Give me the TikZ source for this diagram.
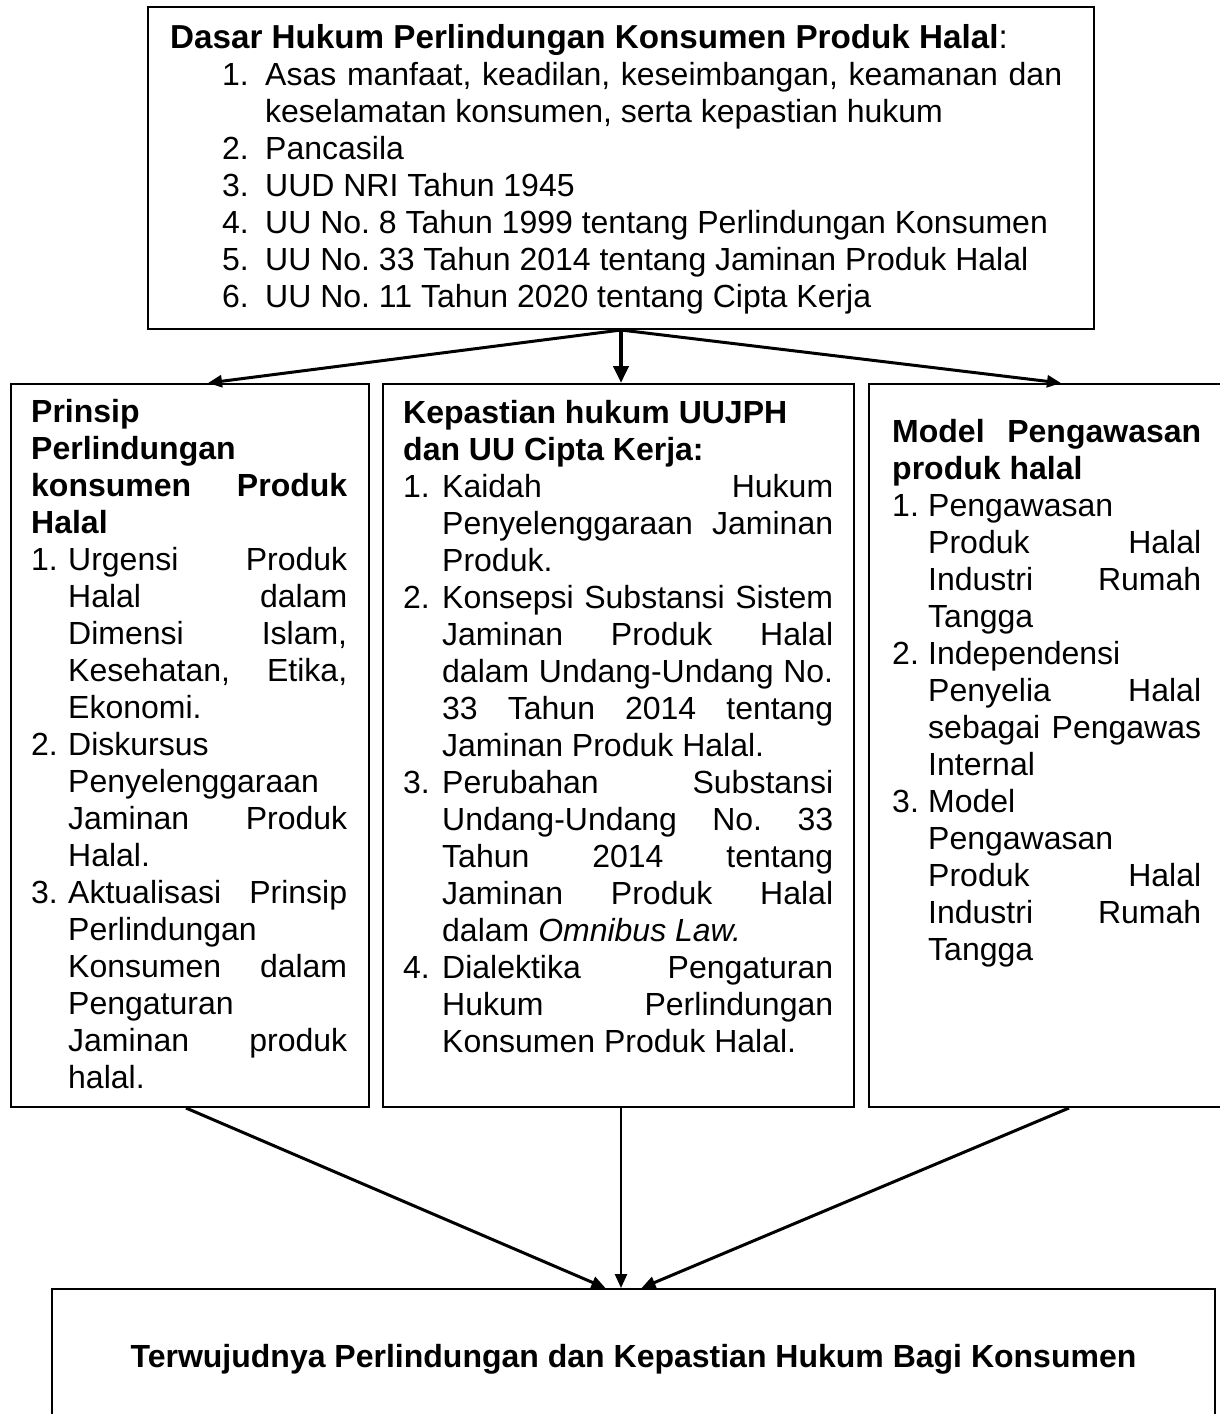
\documentclass[tikz,border=0pt]{standalone}
\usepackage{fontspec}
\setmainfont{Liberation Sans}
\usepackage{tikz}
\usetikzlibrary{arrows.meta, positioning, calc}
\frenchspacing

\newlength{\lebarbutir}
\setlength{\lebarbutir}{38pt}
\newcommand{\butir}[2]{\par\hangindent=\lebarbutir\hangafter=1\noindent\makebox[\lebarbutir][l]{#1}#2}
\newcommand{\butiratas}[2]{\par\leftskip=52pt\hangindent=43pt\hangafter=1\noindent\makebox[43pt][l]{#1}#2}

\begin{document}
\begin{tikzpicture}[
    x=1pt, y=-1pt,
    kotak/.style={rectangle, draw, line width=2pt, inner sep=0pt, anchor=north west},
    isi/.style={inner sep=0pt, anchor=base west, align=justify, font={\fontsize{32}{37}\selectfont\hyphenpenalty=10000}},
    panah/.style={-{Triangle[length=14pt, width=12pt]}, line width=3pt},
]
\useasboundingbox (0,0) rectangle (1219,1414);

% Boxes
\node[kotak, minimum width=946pt, minimum height=322pt] (dasar) at (147,6) {};
\node[kotak, minimum width=358pt, minimum height=723pt] (prinsip) at (10,383) {};
\node[kotak, minimum width=471pt, minimum height=723pt] (kepastian) at (382,383) {};
\node[kotak, minimum width=360pt, minimum height=723pt] (model) at (868,383) {};
\node[kotak, minimum width=1163pt, minimum height=160pt] (hasil) at (51,1288) {};

% Texts
\node[isi, text width=892pt] (teksdasar) at ($(dasar.north west)+(23,42)$) {%
  {\fontsize{33.2}{37}\selectfont\textbf{Dasar Hukum Perlindungan Konsumen Produk Halal}:}
  \butiratas{1.}{Asas manfaat, keadilan, keseimbangan, keamanan dan\linebreak keselamatan konsumen, serta kepastian hukum}
  \butiratas{2.}{Pancasila}
  \butiratas{3.}{UUD NRI Tahun 1945}
  \butiratas{4.}{UU No. 8 Tahun 1999 tentang Perlindungan Konsumen}
  \butiratas{5.}{UU No. 33 Tahun 2014 tentang Jaminan Produk Halal}
  \butiratas{6.}{UU No. 11 Tahun 2020 tentang Cipta Kerja}\par};

\node[isi, text width=316pt] (teksprinsip) at ($(prinsip.north west)+(21,39)$) {%
  \setlength{\lebarbutir}{37pt}%
  \textbf{Prinsip\newline Perlindungan\newline konsumen Produk\linebreak Halal}
  \butir{1.}{Urgensi Produk\linebreak Halal dalam\linebreak Dimensi Islam,\linebreak Kesehatan, Etika,\linebreak Ekonomi.}
  \butir{2.}{Diskursus\newline Penyelenggaraan\newline Jaminan Produk\linebreak Halal.}
  \butir{3.}{Aktualisasi Prinsip\linebreak Perlindungan\newline Konsumen dalam\linebreak Pengaturan\newline Jaminan produk\linebreak halal.}\par};

\node[isi, text width=430pt] (tekskepastian) at ($(kepastian.north west)+(21,40)$) {%
  \setlength{\lebarbutir}{39pt}%
  \textbf{Kepastian hukum UUJPH\newline dan UU Cipta Kerja:}
  \butir{1.}{Kaidah Hukum\linebreak Penyelenggaraan Jaminan\linebreak Produk.}
  \butir{2.}{Konsepsi Substansi Sistem\linebreak Jaminan Produk Halal\linebreak dalam \mbox{Undang-Undang} No.\linebreak 33 Tahun 2014 tentang\linebreak Jaminan Produk Halal.}
  \butir{3.}{Perubahan Substansi\linebreak \mbox{Undang-Undang} No. 33\linebreak Tahun 2014 tentang\linebreak Jaminan Produk Halal\linebreak dalam \textit{Omnibus Law.}}
  \butir{4.}{Dialektika Pengaturan\linebreak Hukum Perlindungan\linebreak Konsumen Produk Halal.}\par};

\node[isi, text width=309pt] (teksmodel) at ($(model.north west)+(24,59)$) {%
  \setlength{\lebarbutir}{36pt}%
  \textbf{Model Pengawasan\linebreak produk halal}
  \butir{1.}{Pengawasan\newline Produk Halal\linebreak Industri Rumah\linebreak Tangga}
  \butir{2.}{Independensi\newline Penyelia Halal\linebreak sebagai Pengawas\linebreak Internal}
  \butir{3.}{Model\newline Pengawasan\newline Produk Halal\linebreak Industri Rumah\linebreak Tangga}\par};

\node[isi, anchor=base, align=center, font={\fontsize{32}{37}\selectfont\bfseries}] (tekshasil) at ($(hasil.north)+(0,79)$)
  {Terwujudnya Perlindungan dan Kepastian Hukum Bagi Konsumen};

% Arrows
\draw[panah] (dasar.south) -- ($(prinsip.north)+(18,0)$);
\draw[panah, line width=4.5pt, -{Triangle[length=17pt, width=15pt]}] (dasar.south) -- ($(kepastian.north)+(2.5,0)$);
\draw[panah] (dasar.south) -- ($(model.north)+(12,0)$);

\draw[panah] ($(prinsip.south)+(-4,0)$) -- ($(hasil.north)+(-28,0)$);
\draw[panah, line width=2.5pt] ($(kepastian.south)+(2.5,0)$) -- ($(hasil.north)+(-12.5,0)$);
\draw[panah] ($(model.south)+(20,0)$) -- ($(hasil.north)+(8,0)$);

\end{tikzpicture}
\end{document}
